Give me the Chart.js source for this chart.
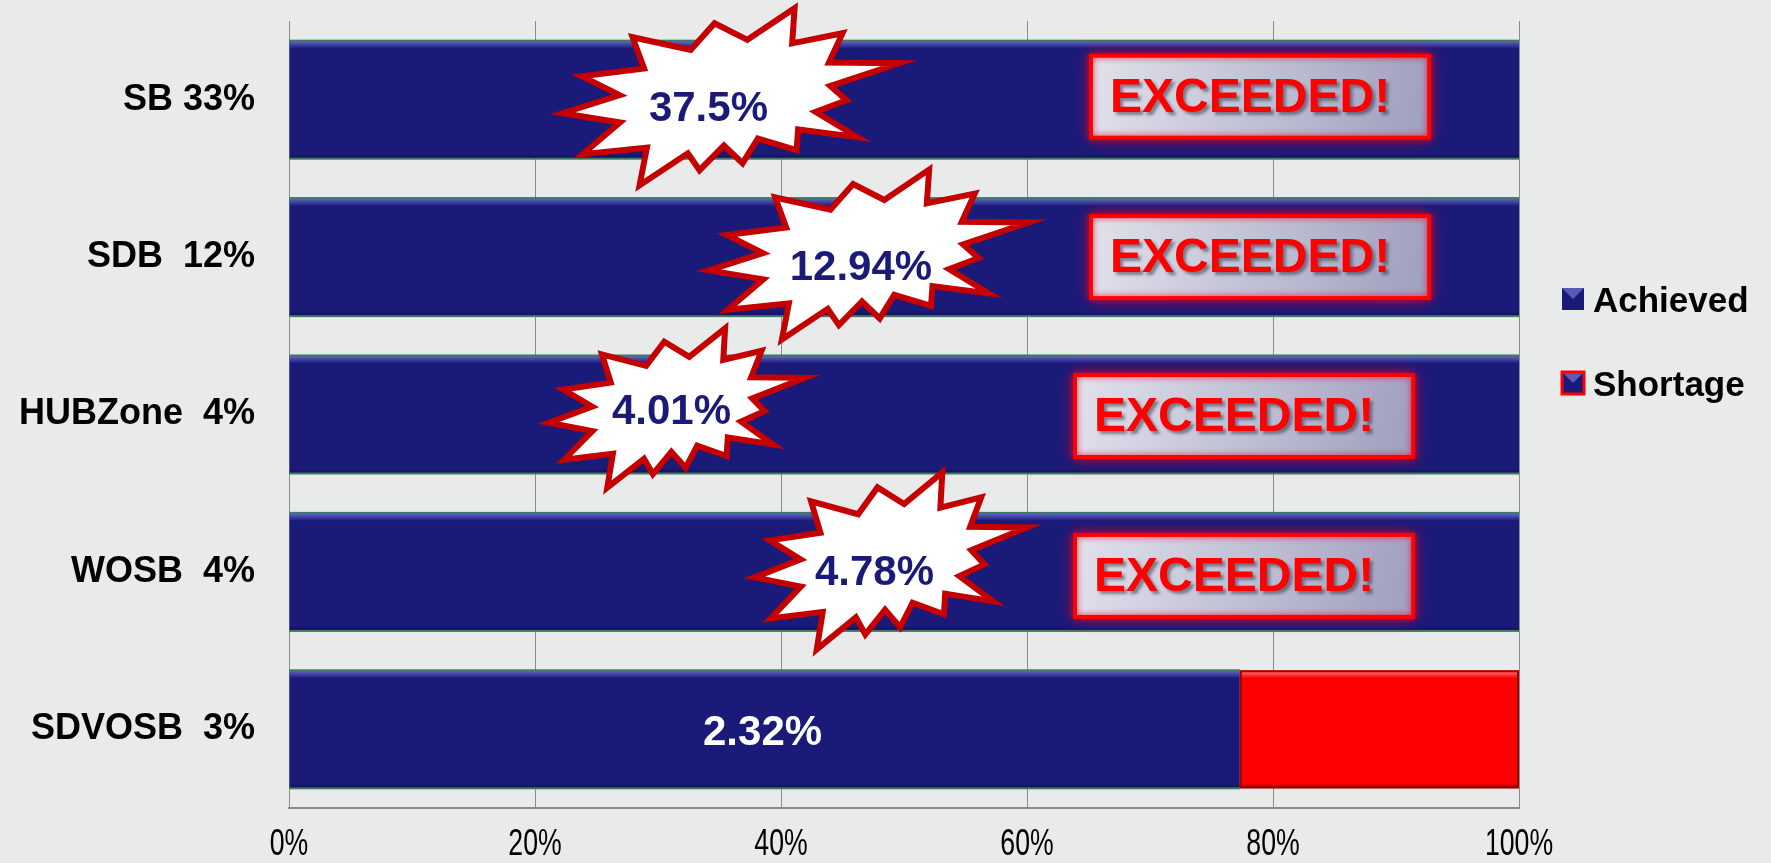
<!DOCTYPE html>
<html>
<head>
<meta charset="utf-8">
<script src="https://cdn.jsdelivr.net/npm/chart.js@4.4.1/dist/chart.umd.min.js"></script>
<style>
    html, body { margin: 0; padding: 0; background: #e8ebea; }
    #wrap { width: 1771px; height: 863px; }
</style>
</head>
<body>
<div id="wrap"><canvas id="goals_chart_canvas" width="1771" height="863"></canvas></div>
<script>
// chart values
var categories = ['SB 33%', 'SDB  12%', 'HUBZone  4%', 'WOSB  4%', 'SDVOSB  3%'];
var achievedPct = [100, 100, 100, 100, 77.3];
var shortagePct = [0, 0, 0, 0, 22.7];
var achievedLabels = ['37.5%', '12.94%', '4.01%', '4.78%', '2.32%'];
var exceeded = [true, true, true, true, false];
var xTicks = [0, 20, 40, 60, 80, 100];

var NAVY = '#1a1a78';
var RED = '#ff0000';

// spike outline of the "burst" callouts, relative to their centre
var burstShape = [[64,-88],[112,-63],[169,-33],[116,4],[127,41],[66,54],[12,67],[-31,74],
                  [-91,89],[-148,58],[-168,17],[-149,-20],[-98,-59],[-16,-73]];
var bursts = [
    {i: 0, cx: 35.9, cy: -3.5, sx: 1.0, sy: 1.0, tx: 34.1, ty: 10},
    {i: 1, cx: 47.1, cy: -3, sx: 0.95, sy: 0.96, tx: 46.5, ty: 11},
    {i: 2, cx: 31.5, cy: -7, sx: 0.76, sy: 0.9, tx: 31.1, ty: -2},
    {i: 3, cx: 48.9, cy: -11.5, sx: 0.81, sy: 1.0, tx: 47.6, ty: 1.5}
];
var boxes = [
    {i: 0, x0: 65.2, x1: 92.7, dy: -3},
    {i: 1, x0: 65.2, x1: 92.7, dy: 0},
    {i: 2, x0: 63.9, x1: 91.4, dy: 1.5},
    {i: 3, x0: 63.9, x1: 91.4, dy: 4}
];

var backgroundPlugin = {
    id: 'background',
    beforeDraw: function (chart) {
        var ctx = chart.ctx;
        ctx.save();
        ctx.fillStyle = '#e8ebea';
        ctx.fillRect(0, 0, chart.width, chart.height);
        ctx.restore();
    }
};

var bevelPlugin = {
    id: 'bevel',
    afterDatasetsDraw: function (chart) {
        var ctx = chart.ctx;
        chart.data.datasets.forEach(function (ds, di) {
            var meta = chart.getDatasetMeta(di);
            meta.data.forEach(function (bar, j) {
                if (!ds.data[j]) return;
                var left = Math.min(bar.base, bar.x), right = Math.max(bar.base, bar.x);
                var top = bar.y - bar.height / 2, bottom = bar.y + bar.height / 2;
                var w = right - left;
                ctx.save();
                var hi = di === 0 ? 'rgba(110,110,210,' : 'rgba(255,140,140,';
                var g = ctx.createLinearGradient(0, top, 0, top + 8);
                g.addColorStop(0, hi + '0.95)');
                g.addColorStop(1, hi + '0)');
                ctx.fillStyle = g;
                ctx.fillRect(left, top, w, 8);
                var g2 = ctx.createLinearGradient(0, bottom - 5, 0, bottom);
                g2.addColorStop(0, 'rgba(0,0,30,0)');
                g2.addColorStop(1, di === 0 ? 'rgba(0,0,30,0.35)' : 'rgba(110,0,0,0.6)');
                ctx.fillStyle = g2;
                ctx.fillRect(left, bottom - 5, w, 5);
                if (di === 0) {
                    ctx.fillStyle = '#3f7a62';
                    ctx.fillRect(left, top - 1, w, 2);
                    ctx.fillRect(left, bottom - 1, w, 2);
                } else {
                    ctx.strokeStyle = '#a00000';
                    ctx.lineWidth = 2;
                    ctx.strokeRect(left + 1, top + 1, w - 2, bottom - top - 2);
                }
                ctx.restore();
            });
        });
    }
};

var calloutPlugin = {
    id: 'callouts',
    afterDraw: function (chart) {
        var ctx = chart.ctx;
        var xs = chart.scales.x, ys = chart.scales.y;

        // narrow tick labels under the x axis
        ctx.save();
        ctx.font = '36px "Liberation Sans", Arial, sans-serif';
        ctx.textAlign = 'center';
        ctx.textBaseline = 'middle';
        ctx.fillStyle = '#000';
        xs.ticks.forEach(function (t) {
            ctx.save();
            ctx.translate(xs.getPixelForValue(t.value), 845);
            ctx.scale(0.74, 1);
            ctx.fillText(t.value + '%', 0, 0);
            ctx.restore();
        });
        ctx.restore();

        // EXCEEDED boxes
        boxes.forEach(function (b) {
            if (!exceeded[b.i]) return;
            var x0 = xs.getPixelForValue(b.x0), x1 = xs.getPixelForValue(b.x1);
            var yc = ys.getPixelForValue(b.i) + b.dy;
            var h = 82, y0 = yc - h / 2;
            ctx.save();
            ctx.shadowColor = 'rgba(230,0,40,0.85)';
            ctx.shadowBlur = 16;
            var g = ctx.createLinearGradient(x0, y0, x1, y0 + h);
            g.addColorStop(0, '#e2e2ec');
            g.addColorStop(1, '#9e9ebe');
            ctx.fillStyle = g;
            ctx.fillRect(x0, y0, x1 - x0, h);
            ctx.shadowBlur = 6;
            ctx.strokeStyle = RED;
            ctx.lineWidth = 4;
            ctx.strokeRect(x0, y0, x1 - x0, h);
            ctx.restore();

            ctx.save();
            ctx.font = 'bold 48px "Liberation Sans", Arial, sans-serif';
            ctx.textAlign = 'center';
            ctx.textBaseline = 'middle';
            ctx.shadowColor = 'rgba(40,40,60,0.5)';
            ctx.shadowOffsetX = 3;
            ctx.shadowOffsetY = 3;
            ctx.shadowBlur = 3;
            ctx.fillStyle = RED;
            ctx.fillText('EXCEEDED!', (x0 + x1) / 2 - 10, yc + 2);
            ctx.restore();
        });

        // bursts with the achieved percentages
        bursts.forEach(function (b) {
            var cx = xs.getPixelForValue(b.cx), cy = ys.getPixelForValue(b.i) + b.cy;
            var n = burstShape.length;
            ctx.save();
            ctx.beginPath();
            for (var k = 0; k < n; k++) {
                var p = burstShape[k], q = burstShape[(k + 1) % n];
                var px = cx + p[0] * b.sx, py = cy + p[1] * b.sy;
                var mx = cx + (p[0] + q[0]) / 2 * 0.7 * b.sx, my = cy + (p[1] + q[1]) / 2 * 0.7 * b.sy;
                if (k === 0) ctx.moveTo(px, py); else ctx.lineTo(px, py);
                ctx.lineTo(mx, my);
            }
            ctx.closePath();
            ctx.fillStyle = '#ffffff';
            ctx.fill();
            ctx.lineJoin = 'miter';
            ctx.strokeStyle = '#c40000';
            ctx.lineWidth = 6;
            ctx.stroke();
            ctx.font = 'bold 42px "Liberation Sans", Arial, sans-serif';
            ctx.textAlign = 'center';
            ctx.textBaseline = 'middle';
            ctx.fillStyle = NAVY;
            ctx.fillText(achievedLabels[b.i], xs.getPixelForValue(b.tx), ys.getPixelForValue(b.i) + b.ty);
            ctx.restore();
        });

        // plain label inside the bars that fell short
        categories.forEach(function (c, i) {
            if (exceeded[i]) return;
            ctx.save();
            ctx.font = 'bold 42px "Liberation Sans", Arial, sans-serif';
            ctx.textAlign = 'center';
            ctx.textBaseline = 'middle';
            ctx.fillStyle = '#ffffff';
            ctx.fillText(achievedLabels[i], xs.getPixelForValue(38.5), ys.getPixelForValue(i) + 4);
            ctx.restore();
        });

        // legend
        var items = [{y: 288, border: null}, {y: 372, border: RED}];
        chart.data.datasets.forEach(function (ds, di) {
            var it = items[di];
            ctx.save();
            ctx.fillStyle = NAVY;
            ctx.fillRect(1562, it.y, 22, 22);
            ctx.fillStyle = 'rgba(120,120,210,0.7)';
            ctx.beginPath();
            ctx.moveTo(1562, it.y); ctx.lineTo(1584, it.y); ctx.lineTo(1573, it.y + 11); ctx.closePath();
            ctx.fill();
            if (it.border) {
                ctx.strokeStyle = it.border;
                ctx.lineWidth = 3;
                ctx.strokeRect(1562, it.y, 22, 22);
            }
            ctx.font = 'bold 35px "Liberation Sans", Arial, sans-serif';
            ctx.textBaseline = 'alphabetic';
            ctx.fillStyle = '#000';
            ctx.fillText(ds.label, 1593, it.y + 24);
            ctx.restore();
        });
    }
};

var count_ctx = document.getElementById('goals_chart_canvas');
var myChart = new Chart(count_ctx, {
    type: 'bar',
    data: {
        labels: categories,
        datasets: [{
            label: 'Achieved',
            data: achievedPct,
            backgroundColor: NAVY,
            borderWidth: 0,
            barPercentage: 0.75,
            categoryPercentage: 1.0
        }, {
            label: 'Shortage',
            data: shortagePct,
            backgroundColor: RED,
            borderWidth: 0,
            barPercentage: 0.75,
            categoryPercentage: 1.0
        }]
    },
    options: {
        indexAxis: 'y',
        responsive: false,
        animation: false,
        devicePixelRatio: 1,
        layout: { padding: { top: 21, right: 252, left: 0, bottom: 0 } },
        plugins: {
            legend: { display: false },
            tooltip: { enabled: false }
        },
        scales: {
            x: {
                stacked: true,
                min: 0,
                max: 100,
                afterBuildTicks: function (scale) {
                    scale.ticks = xTicks.map(function (v) { return {value: v}; });
                },
                afterFit: function (scale) {
                    scale.height = 55;
                    scale.paddingLeft = 0;
                    scale.paddingRight = 0;
                },
                ticks: {
                    padding: 16,
                    color: 'rgba(0,0,0,0)',
                    font: { family: '"Liberation Sans", Arial, sans-serif', size: 30 },
                    callback: function (v) { return v + '%'; }
                },
                grid: { color: '#8c8c8c', lineWidth: 1, drawTicks: false },
                border: { display: true, color: '#8c8c8c', width: 2 }
            },
            y: {
                stacked: true,
                afterFit: function (scale) {
                    scale.width = 289;
                    scale.paddingTop = 0;
                    scale.paddingBottom = 0;
                },
                ticks: {
                    padding: 34,
                    color: '#000',
                    font: { family: '"Liberation Sans", Arial, sans-serif', size: 36, weight: 'bold' }
                },
                grid: { display: false, drawTicks: false },
                border: { display: true, color: '#8c8c8c', width: 1 }
            }
        }
    },
    plugins: [backgroundPlugin, bevelPlugin, calloutPlugin]
});
</script>
</body>
</html>
